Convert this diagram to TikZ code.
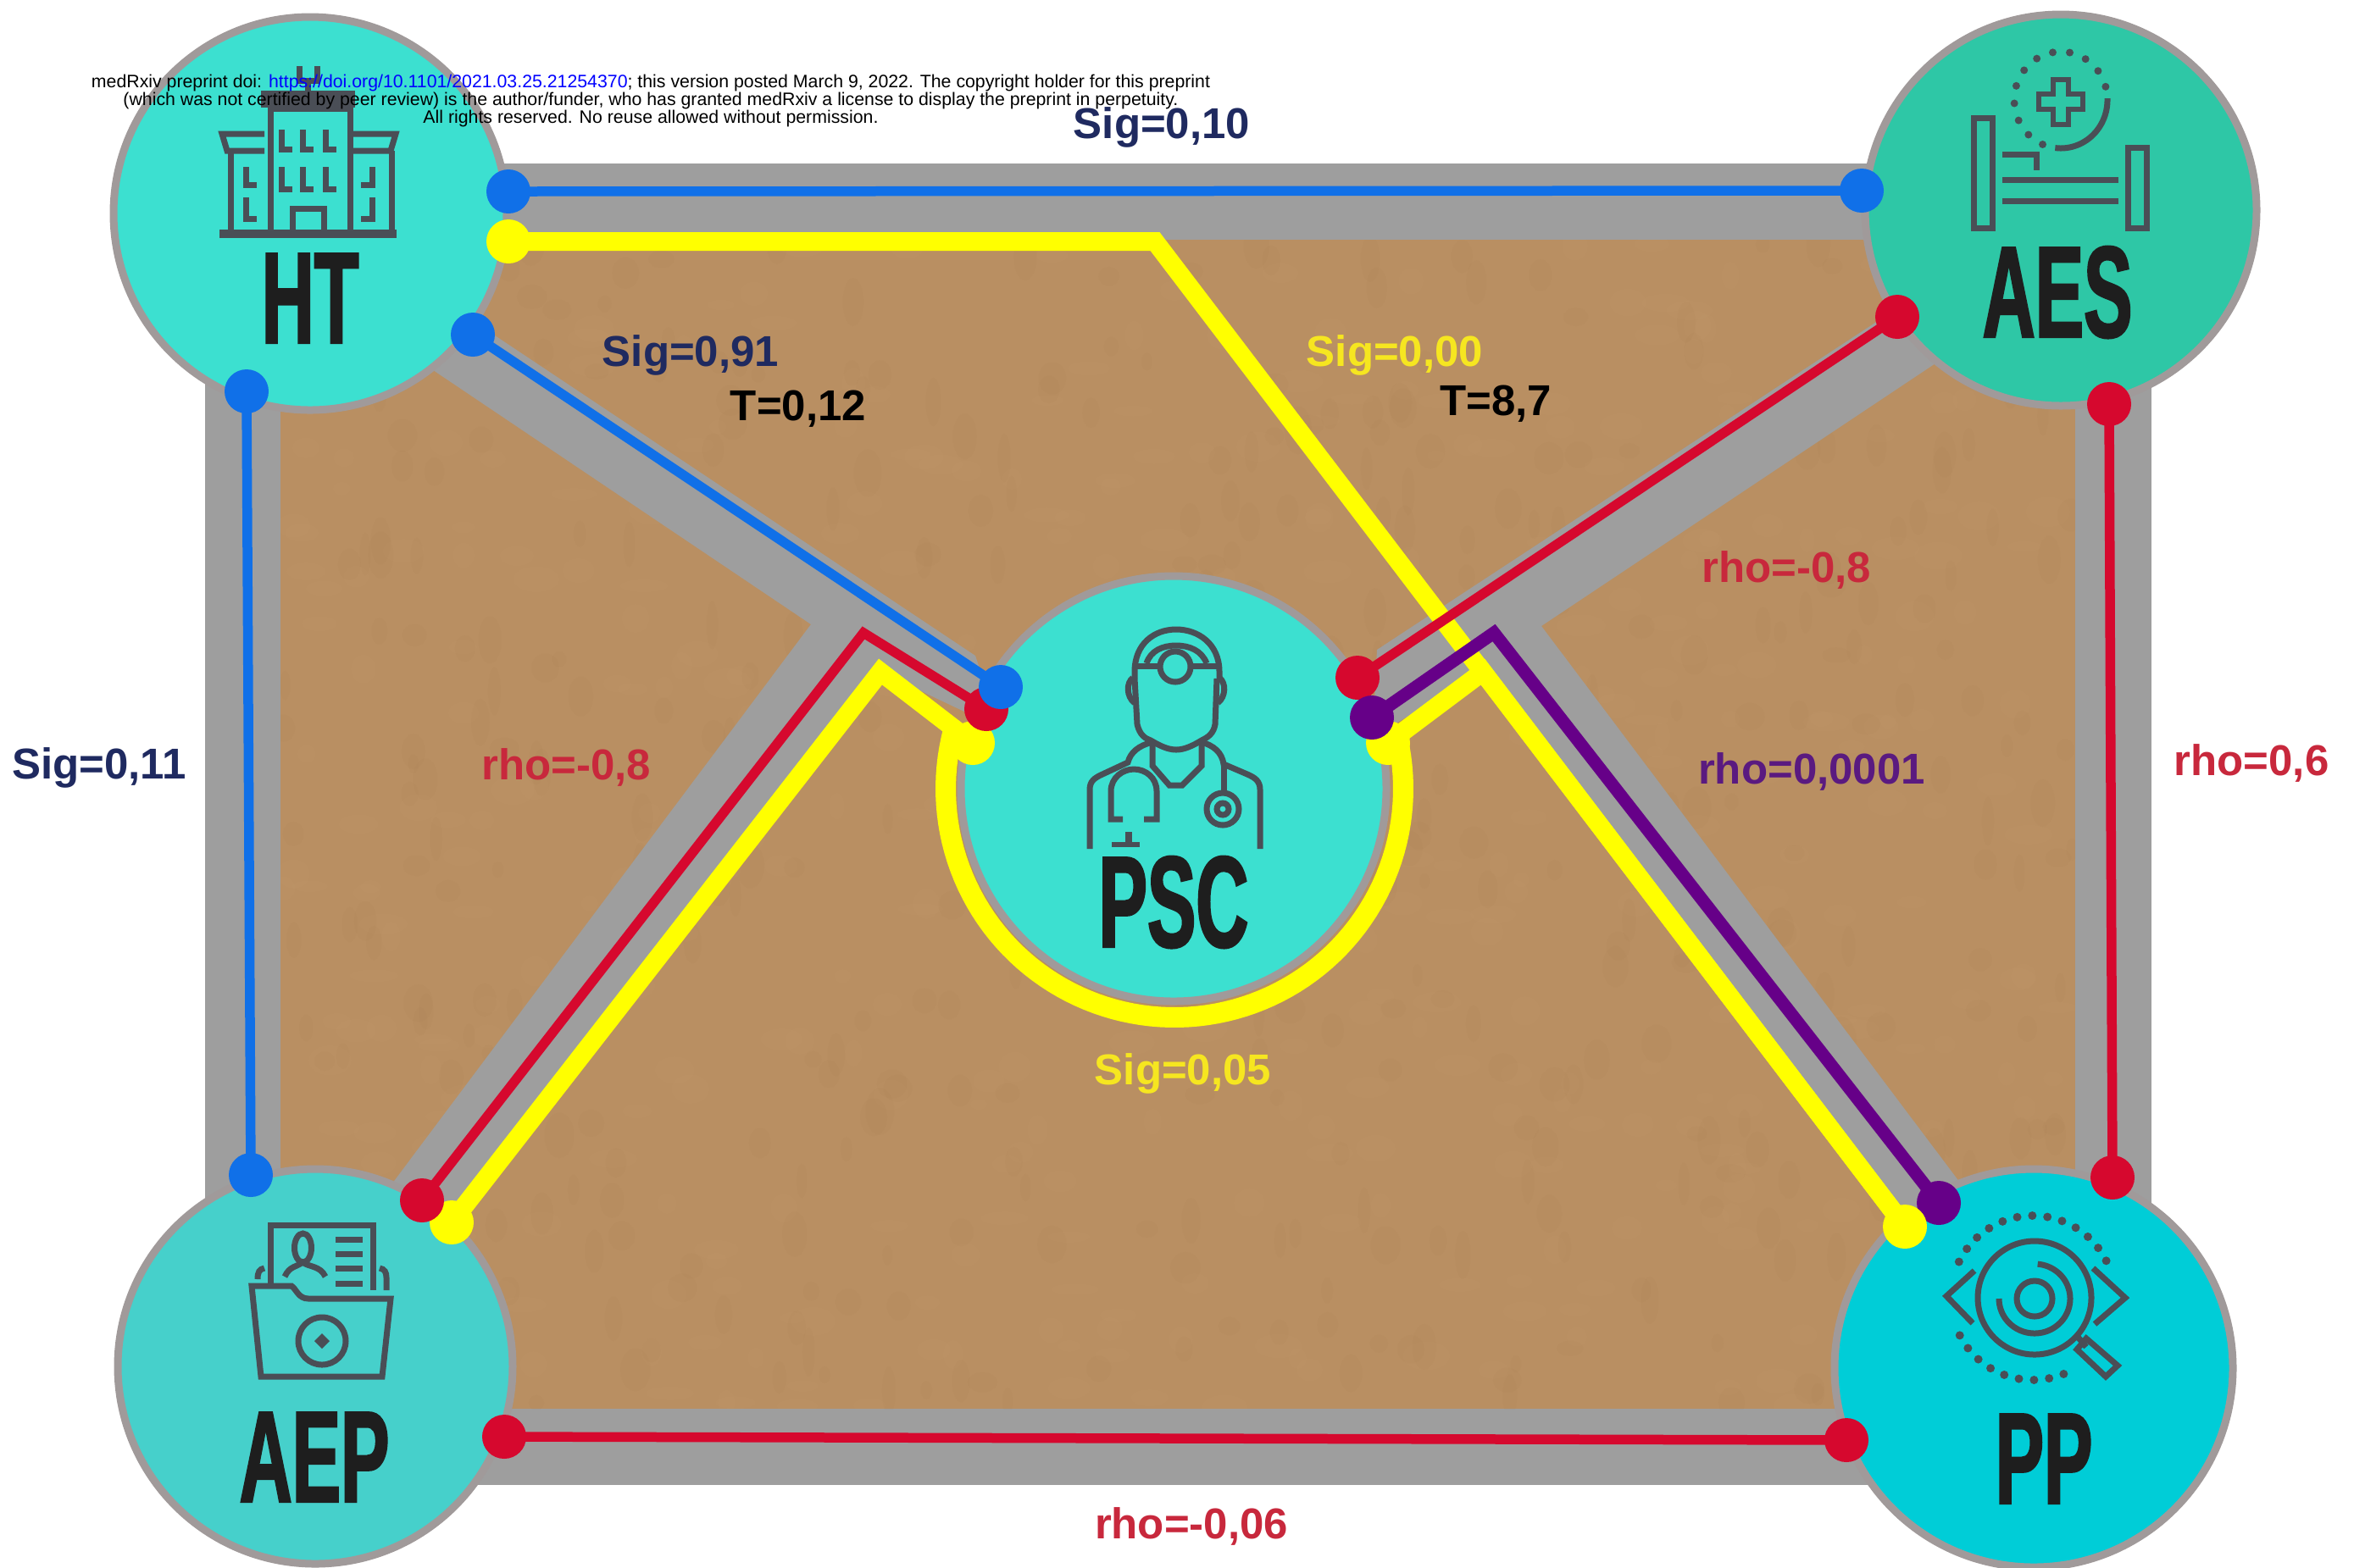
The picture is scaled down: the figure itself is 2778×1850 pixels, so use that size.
\documentclass[tikz,border=0pt]{standalone}
\usepackage{fontspec}
\setmainfont{Liberation Sans}
\newfontfamily\capfont[FakeStretch=0.56,FakeBold=1.5]{Liberation Sans Bold}
\definecolor{bandgray}{HTML}{9E9E9E}
\definecolor{ringgray}{HTML}{A09A9A}
\definecolor{cardboard}{HTML}{B98F62}
\definecolor{spotdark}{HTML}{A67C50}
\definecolor{spotlight}{HTML}{C9A074}
\definecolor{tealHT}{HTML}{3CE0D0}
\definecolor{tealAES}{HTML}{2EC7A6}
\definecolor{tealAEP}{HTML}{46D0CB}
\definecolor{tealPP}{HTML}{00CDD7}
\definecolor{lnblue}{HTML}{1070E8}
\definecolor{lnred}{HTML}{D6082E}
\definecolor{lnyellow}{HTML}{FFFF00}
\definecolor{lnpurple}{HTML}{660088}
\definecolor{txnavy}{HTML}{1F2A60}
\definecolor{txred}{HTML}{C8283C}
\definecolor{txyellow}{HTML}{F6E620}
\definecolor{txpurple}{HTML}{5A1A80}
\definecolor{icongray}{HTML}{4A4E56}
\definecolor{capblack}{HTML}{1E1E1E}
\pgfdeclarelayer{bands}
\pgfdeclarelayer{disks}
\pgfdeclarelayer{lines}
\pgfdeclarelayer{icons}
\pgfsetlayers{bands,disks,lines,main,icons}
\tikzset{
  disk/.style={circle,inner sep=0pt,minimum size=#1,draw=ringgray,line width=0.9mm},
  joint/.style={circle,inner sep=0pt,minimum size=5.2mm,fill=#1},
  thinlink/.style={draw=#1,line width=1.15mm},
  widelink/.style={draw=#1,line width=2.2mm},
  icon/.style={draw=icongray,line width=0.7mm},
  iconfill/.style={fill=icongray},
  stat/.style={font=\bfseries\fontsize{14.5}{16}\selectfont,inner sep=0pt,text=#1},
  bigcap/.style={font=\capfont\fontsize{43.7}{44}\selectfont,inner sep=0pt,text=capblack},
}
\begin{document}
\begin{tikzpicture}[x=0.1mm,y=-0.1mm]
\useasboundingbox (0,0) rectangle (2778,1850);
% ---------- background ----------
\begin{pgfonlayer}{bands}
\fill[white] (0,0) rectangle (2778,1850);
\fill[bandgray] (242,193) rectangle (2539,1753);
\fill[cardboard] (331,283) rectangle (2449,1663);
\begin{scope}
\clip (331,283) rectangle (2449,1663);
\pgfmathsetseed{42}
\foreach \i in {1,...,450}{
  \pgfmathsetmacro\xa{331+rnd*2118}
  \pgfmathsetmacro\ya{283+rnd*1380}
  \pgfmathsetmacro\ra{6+rnd*12}
  \pgfmathsetmacro\rb{9+rnd*20}
  \fill[spotdark,opacity=0.07] (\xa,\ya) ellipse[x radius=\ra,y radius=\rb];
  \pgfmathsetmacro\xa{331+rnd*2118}
  \pgfmathsetmacro\ya{283+rnd*1380}
  \fill[spotlight,opacity=0.07] (\xa,\ya) ellipse[x radius=\rb,y radius=\ra];
}
\end{scope}
\fill[bandgray] (530,360) -- (1151,774) -- (1180,860) -- (1039,793) -- (500,1486) -- (430,1441) -- (957,737) -- (480,416) -- cycle;
\fill[bandgray] (2260,350) -- (1625,767) -- (1620,870) -- (1750,793) -- (2280,1490) -- (2340,1432) -- (1819,739) -- (2320,405) -- cycle;
\end{pgfonlayer}
% ---------- disks ----------
\begin{pgfonlayer}{disks}
\node[disk=46.4mm,fill=tealHT]  (HT)  at (366,252)  {};
\node[disk=46.2mm,fill=tealAES] (AES) at (2432,248) {};
\node[disk=46.6mm,fill=tealAEP] (AEP) at (372,1613) {};
\node[disk=47mm,fill=tealPP]    (PP)  at (2400,1615) {};
\node[disk=50.2mm,fill=tealHT]  (PSC) at (1385,931) {};
\end{pgfonlayer}
% ---------- joints ----------
\coordinate (vl1) at (1039,793);
\coordinate (vl2) at (1019,747);
\coordinate (vr1) at (1750,793);
\coordinate (vr2) at (1763,747);
\coordinate (ytop) at (1363,285);
\node[joint=lnyellow] (yHT)  at (600,285) {};
\node[joint=lnyellow] (yPSCl) at (1148,877) {};
\node[joint=lnyellow] (yPSCr) at (1638,877) {};
\node[joint=lnyellow] (yAEP) at (533,1443) {};
\node[joint=lnred] (rAEPb) at (498,1417) {};
\node[joint=lnred] (rPSCl) at (1164,837) {};
\node[joint=lnblue] (bHTr) at (600,226) {};
\node[joint=lnblue] (bAES) at (2197,225) {};
\node[joint=lnblue] (bHTd) at (558,395) {};
\node[joint=lnblue] (bPSC) at (1181,811) {};
\node[joint=lnblue] (bHTb) at (291,462) {};
\node[joint=lnblue] (bAEP) at (296,1387) {};
\node[joint=lnred] (rAESd) at (2239,374) {};
\node[joint=lnred] (rPSCr) at (1602,800) {};
\node[joint=lnred] (rAESb) at (2489,477) {};
\node[joint=lnred] (rPPt) at (2493,1390) {};
\node[joint=lnred] (rAEPr) at (595,1696) {};
\node[joint=lnred] (rPPl) at (2179,1700) {};
\node[joint=lnpurple] (pPSC) at (1619,847) {};
\node[joint=lnpurple] (pPP) at (2288,1420) {};
\node[joint=lnyellow] (yPP) at (2248,1448) {};
% ---------- connectors ----------
\begin{pgfonlayer}{lines}
\draw[widelink=lnyellow] (yHT.center) -- (ytop) -- (yPP.center);
\draw[widelink=lnyellow] (yAEP.center) -- (vl1) -- (yPSCl.center);
\draw[widelink=lnyellow] (yPSCr.center) -- (vr1) -- (yPP.center);
\draw[draw=lnyellow,line width=2.4mm] plot[domain=-15:195,samples=90] ({1386+270*cos(\x)},{931+270*sin(\x)});
\draw[thinlink=lnblue] (bHTr.center) -- (bAES.center);
\draw[thinlink=lnblue] (bHTd.center) -- (bPSC.center);
\draw[thinlink=lnblue] (bHTb.center) -- (bAEP.center);
\draw[thinlink=lnred] (rAEPb.center) -- (vl2) -- (rPSCl.center);
\draw[thinlink=lnred] (rAESd.center) -- (rPSCr.center);
\draw[thinlink=lnred] (rAESb.center) -- (rPPt.center);
\draw[thinlink=lnred] (rAEPr.center) -- (rPPl.center);
\draw[thinlink=lnpurple,line width=1.5mm] (pPSC.center) -- (vr2) -- (pPP.center);
\end{pgfonlayer}
% ---------- icons ----------
\begin{pgfonlayer}{icons}
% hospital
\draw[icon,line width=1mm] (259,276) -- (468,276);
\draw[icon] (319,276) -- (319,128) -- (413,128) -- (413,276);
\draw[icon] (353,78) -- (353,95) -- (374,95) -- (374,78) (363,95) -- (363,107);
\fill[iconfill] (308,107) rectangle (419,127);
\draw[icon] (272,276) -- (272,178) (462,276) -- (462,178);
\draw[icon] (312,158) -- (262,158) -- (268,178) -- (312,178);
\draw[icon] (417,158) -- (467,158) -- (461,178) -- (417,178);
\draw[icon] (345,276) -- (345,246) -- (382,246) -- (382,276);
\foreach \wx in {332,357,384}{
  \draw[icon] (\wx,153) -- (\wx,176) -- (\wx+13,176);
  \draw[icon] (\wx,197) -- (\wx,223) -- (\wx+13,223);
}
\draw[icon] (290,197) -- (290,218) -- (303,218) (290,233) -- (290,258) -- (303,258);
\draw[icon] (439,197) -- (439,218) -- (426,218) (439,233) -- (439,258) -- (426,258);
% bed
\draw[icon] (2329,139) rectangle (2351,269);
\draw[icon] (2511,174) rectangle (2533,269);
\draw[icon] (2363,212) -- (2500,212) (2363,237) -- (2500,237);
\draw[icon] (2363,182) -- (2403,182) -- (2403,201);
\draw[icon,line width=0.6mm] (2423,94) -- (2441,94) -- (2441,111) -- (2458,111) -- (2458,129) -- (2441,129) -- (2441,147) -- (2423,147) -- (2423,129) -- (2406,129) -- (2406,111) -- (2423,111) -- cycle;
\draw[icon] plot[domain=-2:97,samples=30] ({2432+55*cos(\x)},{118+57*sin(\x)});
\foreach \a in {113,134,...,344}{
  \fill[iconfill] ({2432+55*cos(\a)},{118+57*sin(\a)}) circle[radius=4.5];
}
% folder
\draw[icon] (319,1517) -- (319,1446) -- (440,1446) -- (440,1523);
\draw[icon] (357.5,1473) ellipse[x radius=10,y radius=17];
\draw[icon] (336,1507) .. controls (342,1494) and (350,1496) .. (357,1490) .. controls (365,1496) and (378,1494) .. (384,1507);
\draw[icon] (396,1463) -- (428,1463) (396,1480) -- (428,1480) (396,1497) -- (428,1497) (396,1515) -- (428,1515);
\draw[icon] (304,1510) .. controls (304,1502) and (306,1498) .. (312,1497);
\draw[icon] (448,1497) .. controls (454,1498) and (456,1502) .. (456,1508) -- (456,1523);
\draw[icon] (297,1518) -- (344,1518) .. controls (350,1522) and (352,1533) .. (364,1533) -- (461,1533) -- (451,1625) -- (308,1625) -- cycle;
\draw[icon] (380,1583) circle[radius=28];
\fill[iconfill] (380,1574) -- (389,1583) -- (380,1592) -- (371,1583) -- cycle;
% eye
\draw[icon] (2401,1532) circle[radius=67];
\draw[icon] (2451,1577) -- (2462,1590);
\draw[icon] (2462,1580) -- (2499,1612) -- (2485,1625) -- (2451,1593) -- cycle;
\draw[icon] (2401,1533) circle[radius=21];
\draw[icon] plot[domain=-85:180,samples=60] ({2401+42*cos(\x)},{1533+41*sin(\x)});
\draw[icon] (2330,1500) -- (2297,1530) -- (2328,1562);
\draw[icon] (2470,1497) -- (2508,1532) -- (2472,1563);
\foreach \a in {206,216.6,...,334}{
  \fill[iconfill] ({2399+97*cos(\a)},{1532+97*sin(\a)}) circle[radius=5];
}
\foreach \a in {68,78.6,...,154}{
  \fill[iconfill] ({2399+97*cos(\a)},{1532+97*sin(\a)}) circle[radius=5];
}
% doctor
\draw[icon] (1339,801) -- (1339,793) .. controls (1339,760) and (1362,743) .. (1388,743) .. controls (1414,743) and (1439,760) .. (1439,793) -- (1439,801);
\draw[icon] (1339,786) -- (1368,786) (1406,786) -- (1439,786);
\draw[icon] (1353,783) .. controls (1358,768) and (1372,762) .. (1388,762) .. controls (1404,762) and (1418,768) .. (1424,783);
\draw[icon] (1387,787) circle[radius=18];
\draw[icon] (1339,801) -- (1342,855) .. controls (1345,868) and (1352,872) .. (1358,874) .. controls (1368,880) and (1378,885) .. (1388,885) .. controls (1398,885) and (1408,880) .. (1418,874) .. controls (1426,870) and (1432,866) .. (1434,855) -- (1436,801);
\draw[icon] (1337,800) .. controls (1329,806) and (1329,822) .. (1339,830);
\draw[icon] (1439,800) .. controls (1447,806) and (1447,822) .. (1437,830);
\draw[icon] (1360,874) -- (1360,904) -- (1380,927) -- (1395,927) -- (1418,904) -- (1418,877);
\draw[icon] (1286,1002) -- (1286,932) .. controls (1286,922) and (1292,918) .. (1301,914) -- (1331,900) .. controls (1334,888) and (1344,880) .. (1360,876);
\draw[icon] (1487,1002) -- (1487,932) .. controls (1487,922) and (1481,918) .. (1472,914) -- (1444,902) .. controls (1442,888) and (1432,880) .. (1418,876);
\draw[icon] (1325,967) -- (1311,967) -- (1311,934) .. controls (1311,918) and (1325,908) .. (1338,908) .. controls (1352,908) and (1365,918) .. (1365,934) -- (1365,967) -- (1350,967);
\draw[icon] (1444,902) -- (1444,936);
\draw[icon] (1443,955) circle[radius=19];
\draw[icon] (1443,955) circle[radius=7];
\fill[iconfill] (1312,994) rectangle (1345,1000);
\fill[iconfill] (1328,982) rectangle (1336,994);
% ---------- captions ----------
\node[bigcap] (capHT)  at (366,352)  {HT};
\node[bigcap] (capAES) at (2428,345) {AES};
\node[bigcap] (capAEP) at (371,1720) {AEP};
\node[bigcap] (capPP)  at (2412,1722) {PP};
\node[bigcap] (capPSC) at (1385,1065) {PSC};
% ---------- statistics ----------
\node[stat=txnavy] (s1) at (1371,150) {Sig=0,10};
\node[stat=txnavy] (s2) at (815,419) {Sig=0,91};
\node[stat=black]  (s3) at (942,483) {T=0,12};
\node[stat=txyellow] (s4) at (1646,419) {Sig=0,00};
\node[stat=black]  (s5) at (1765,477) {T=8,7};
\node[stat=txred]  (s6) at (2108,673) {rho=-0,8};
\node[stat=txred]  (s7) at (668,906) {rho=-0,8};
\node[stat=txpurple] (s8) at (2138,911) {rho=0,0001};
\node[stat=txred]  (s9) at (2657,901) {rho=0,6};
\node[stat=txnavy] (s10) at (117,906) {Sig=0,11};
\node[stat=txyellow] (s11) at (1396,1267) {Sig=0,05};
\node[stat=txred]  (s12) at (1406,1802) {rho=-0,06};
% ---------- header ----------
\node[inner sep=0pt,align=center,font=\fontsize{6.06}{6.1}\selectfont,text=black] (hdr) at (768,119)
 {medRxiv preprint doi: \textcolor{blue}{https://doi.org/10.1101/2021.03.25.21254370}; this version posted March 9, 2022. The copyright holder for this preprint\\
 (which was not certified by peer review) is the author/funder, who has granted medRxiv a license to display the preprint in perpetuity.\\
 All rights reserved. No reuse allowed without permission.};
\end{pgfonlayer}
\end{tikzpicture}
\end{document}
